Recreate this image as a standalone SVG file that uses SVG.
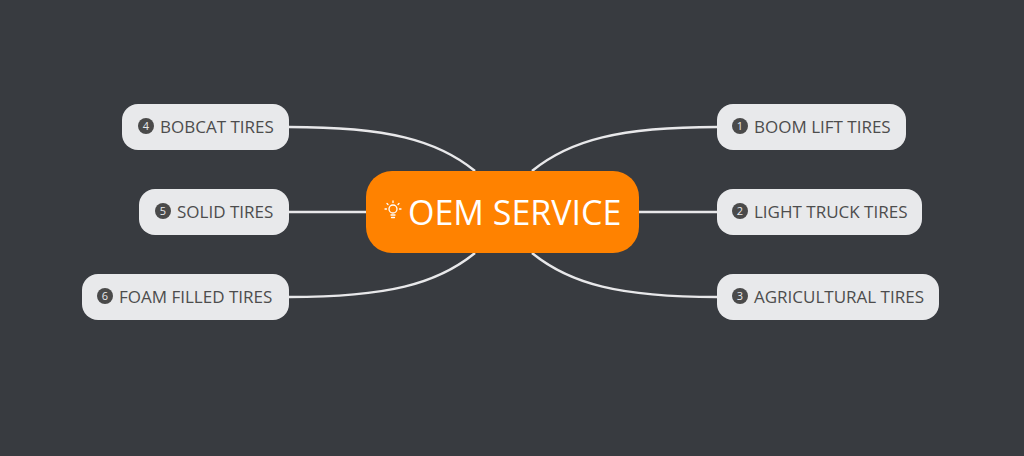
<svg xmlns="http://www.w3.org/2000/svg" width="1024" height="456" viewBox="0 0 1024 456">
<style>
.bg{fill:#383b40}
.conn path{fill:none;stroke:#e8e8ea;stroke-width:2.5}
.box{fill:#e8e9eb}
.lbl{font-family:"Open Sans","Noto Sans",sans-serif;font-size:17px;fill:#4d4d4d}
.badge{fill:#4a4a4a}
.num{font-family:"Open Sans","Noto Sans",sans-serif;font-size:11px;fill:#e8e9eb;text-anchor:middle}
.main{fill:#ff8200}
.mainlbl{font-family:"Open Sans","Noto Sans",sans-serif;font-size:34px;fill:#ffffff}
.bulb{fill:none;stroke:#ffffff;stroke-width:1.3;stroke-linecap:round}
</style>
<rect class="bg" width="1024" height="456"/>
<g id="connectors" class="conn">
<path d="M532,171 C570,140 620,127 717,127"/>
<path d="M639,212 L717,212"/>
<path d="M532,253 C570,284 620,297 717,297"/>
<path d="M475,171 C437,140 387,127 289,127"/>
<path d="M366,212 L289,212"/>
<path d="M475,253 C437,284 387,297 289,297"/>
</g>
<g id="center">
<rect class="main" x="366" y="171" width="273" height="82" rx="26"/>
<g class="bulb">
<circle cx="393" cy="209" r="4"/>
<path d="M391,215 L395,215 M391.5,217.5 L394.5,217.5"/>
<path d="M393,201 L393,202.5 M387,203.5 L388,204.5 M399,203.5 L398,204.5 M385,209 L386.5,209 M401,209 L399.5,209"/>
</g>
<text class="mainlbl" x="408" y="225">OEM SERVICE</text>
</g>
<g id="n1">
<rect class="box" x="717" y="104" width="189" height="46" rx="16"/>
<circle class="badge" cx="740" cy="126" r="8"/>
<text class="num" x="740" y="130">1</text>
<text class="lbl" x="754" y="133">BOOM LIFT TIRES</text>
</g>
<g id="n2">
<rect class="box" x="717" y="189" width="205" height="46" rx="16"/>
<circle class="badge" cx="740" cy="211" r="8"/>
<text class="num" x="740" y="215">2</text>
<text class="lbl" x="754" y="218">LIGHT TRUCK TIRES</text>
</g>
<g id="n3">
<rect class="box" x="717" y="274" width="222" height="46" rx="16"/>
<circle class="badge" cx="740" cy="296" r="8"/>
<text class="num" x="740" y="300">3</text>
<text class="lbl" x="754" y="303">AGRICULTURAL TIRES</text>
</g>
<g id="n4">
<rect class="box" x="122" y="104" width="167" height="46" rx="16"/>
<circle class="badge" cx="146" cy="126" r="8"/>
<text class="num" x="146" y="130">4</text>
<text class="lbl" x="160" y="133">BOBCAT TIRES</text>
</g>
<g id="n5">
<rect class="box" x="139" y="189" width="150" height="46" rx="16"/>
<circle class="badge" cx="163" cy="211" r="8"/>
<text class="num" x="163" y="215">5</text>
<text class="lbl" x="177" y="218">SOLID TIRES</text>
</g>
<g id="n6">
<rect class="box" x="82" y="274" width="207" height="46" rx="16"/>
<circle class="badge" cx="105" cy="296" r="8"/>
<text class="num" x="105" y="300">6</text>
<text class="lbl" x="119" y="303">FOAM FILLED TIRES</text>
</g>
</svg>
